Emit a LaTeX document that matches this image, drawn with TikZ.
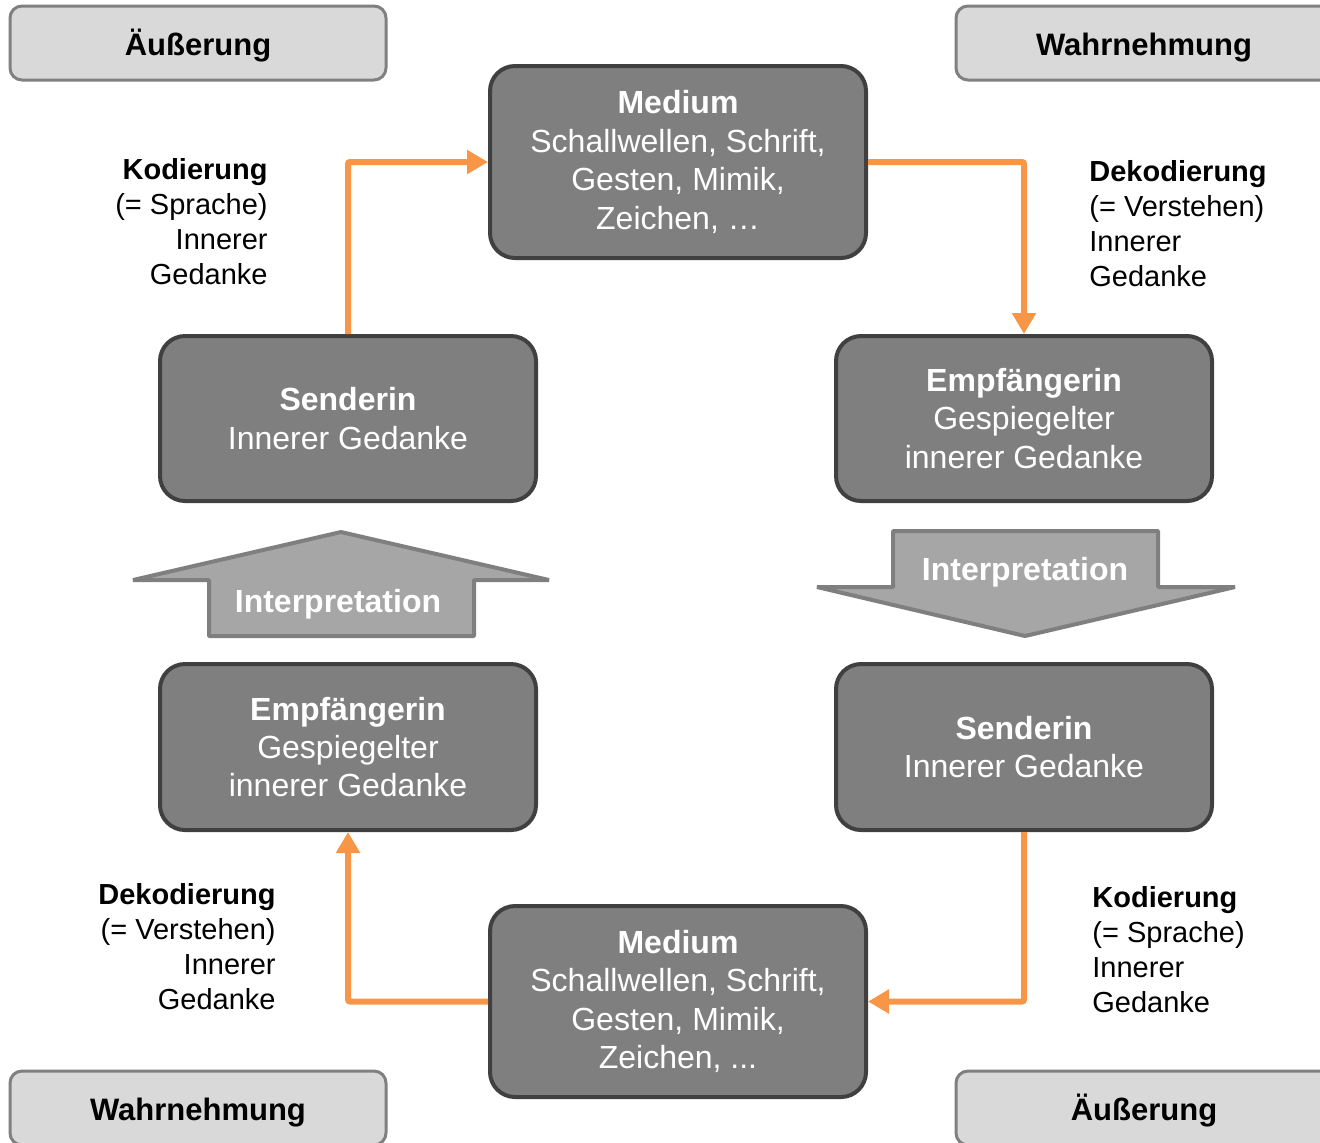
\documentclass[tikz,border=0pt]{standalone}
\usepackage{fontspec}
\setmainfont{Liberation Sans}
\usetikzlibrary{arrows.meta}
\definecolor{boxfill}{HTML}{7F7F7F}
\definecolor{boxline}{HTML}{404040}
\definecolor{cornfill}{HTML}{D9D9D9}
\definecolor{cornline}{HTML}{808080}
\definecolor{arrfill}{HTML}{A6A6A6}
\definecolor{arrline}{HTML}{7F7F7F}
\definecolor{orangeline}{HTML}{F79646}
\tikzset{
  darkbox/.style={draw=boxline, fill=boxfill, line width=2pt, rounded corners=12.5pt,
    minimum width=188pt, inner sep=0pt, text=white, align=center,
    font=\fontsize{16}{19.2}\selectfont},
  cornerbox/.style={draw=cornline, fill=cornfill, line width=1.5pt, rounded corners=6pt,
    minimum width=188pt, minimum height=37pt, inner sep=0pt,
    text height=12pt, text depth=0pt,
    font=\fontsize{15.5}{18}\selectfont\bfseries},
  bigarrow/.style={draw=arrline, fill=arrfill, line width=2pt, line join=bevel},
  arrlabel/.style={text=white, inner sep=0pt, font=\fontsize{16}{19}\selectfont\bfseries},
  sidelabel/.style={inner sep=0pt, font=\fontsize{14.5}{17.5}\selectfont},
  flow/.style={draw=orangeline, line width=3pt, rounded corners=1pt,
    -{Triangle[length=10.5pt,width=11.5pt]}}
}
\begin{document}
\begin{tikzpicture}[x=0.5pt, y=-0.5pt]
\useasboundingbox (0,0) rectangle (1320,1142);
\clip (0,0) rectangle (1320,1142);

% corner boxes
\node[cornerbox] (c1) at (198,43) {Äußerung};
\node[cornerbox] (c2) at (1144,43) {Wahrnehmung};
\node[cornerbox] (c3) at (198,1108) {Wahrnehmung};
\node[cornerbox] (c4) at (1144,1108) {Äußerung};

% dark boxes
\node[darkbox, minimum height=96pt] (mt) at (678,162)
  {\textbf{Medium}\\Schallwellen, Schrift,\\Gesten, Mimik,\\Zeichen, …};
\node[darkbox, minimum height=82.5pt] (sl) at (348,418.5)
  {\textbf{Senderin}\\Innerer Gedanke};
\node[darkbox, minimum height=82.5pt] (er) at (1024,418.5)
  {\textbf{Empfängerin}\\Gespiegelter\\innerer Gedanke};
\node[darkbox, minimum height=83pt] (el) at (348,747)
  {\textbf{Empfängerin}\\Gespiegelter\\innerer Gedanke};
\node[darkbox, minimum height=83pt] (sr) at (1024,747)
  {\textbf{Senderin}\\Innerer Gedanke};
\node[darkbox, minimum height=95.5pt] (mb) at (678,1001.5)
  {\textbf{Medium}\\Schallwellen, Schrift,\\Gesten, Mimik,\\Zeichen, ...};

% orange connectors
\draw[flow] (sl.north) |- (mt.west);
\draw[flow] (mt.east) -| (er.north);
\draw[flow] (sr.south) |- (mb.east);
\draw[flow] (mb.west) -| (el.south);

% side labels
\node[sidelabel, anchor=east, align=right] (l1) at (268,222)
  {\textbf{Kodierung}\\(= Sprache)\\Innerer\\Gedanke};
\node[sidelabel, anchor=west, align=left] (l2) at (1089,223.5)
  {\textbf{Dekodierung}\\(= Verstehen)\\Innerer\\Gedanke};
\node[sidelabel, anchor=east, align=right] (l3) at (276,946.5)
  {\textbf{Dekodierung}\\(= Verstehen)\\Innerer\\Gedanke};
\node[sidelabel, anchor=west, align=left] (l4) at (1092,950)
  {\textbf{Kodierung}\\(= Sprache)\\Innerer\\Gedanke};

% interpretation arrows
\draw[bigarrow] (209,636) -- (474,636) -- (474,580) -- (549,580) -- (341,532)
  -- (133,580) -- (209,580) -- cycle;
\node[arrlabel] (i1) at (338,604) {Interpretation};
\draw[bigarrow] (893,531) -- (1158,531) -- (1158,587) -- (1235,587) -- (1025,636)
  -- (817,587) -- (893,587) -- cycle;
\node[arrlabel] (i2) at (1025,572) {Interpretation};
\end{tikzpicture}
\end{document}
